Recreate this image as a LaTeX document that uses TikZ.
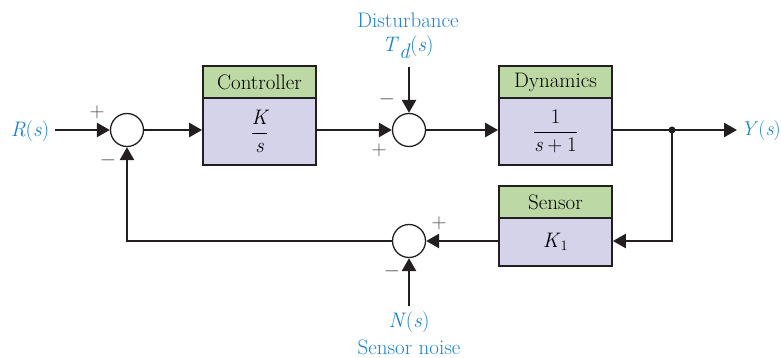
\documentclass[tikz,border=0pt]{standalone}
\usepackage{fontspec}
\usetikzlibrary{arrows.meta}
\definecolor{hdr}{RGB}{188,216,164}
\definecolor{bdy}{RGB}{213,211,234}
\definecolor{sig}{RGB}{30,130,200}
\definecolor{ln}{RGB}{35,31,32}
\begin{document}
\begin{tikzpicture}[x=1pt,y=-1pt,
  font=\fontsize{21}{25}\selectfont,
  hdrbox/.style={draw=ln,line width=1.8pt,fill=hdr,minimum width=113pt,minimum height=32pt,inner sep=0pt},
  bdybox/.style={draw=ln,line width=1.8pt,fill=bdy,minimum width=113pt,inner sep=0pt},
  sumj/.style={circle,draw=ln,line width=1.3pt,fill=white,minimum size=33pt,inner sep=0pt},
  sigtxt/.style={text=sig,inner sep=0pt},
  signmark/.style={text=ln!80,font=\fontsize{22}{24}\selectfont,inner sep=0pt},
  wire/.style={draw=ln,line width=2.6pt},
  arr/.style={wire,-{Triangle[length=13pt,width=14pt]}}]
\useasboundingbox (0,0) rectangle (781,358);
% blocks
\node[bdybox,minimum height=67pt] (ctrl) at (259.5,131.5) {$\displaystyle\frac{\textit{K}}{\textit{s}}$};
\node[hdrbox] (ctrlH) at (259.5,82) {Controller};
\node[bdybox,minimum height=67pt] (dyn) at (555.5,131.5) {$\displaystyle\frac{1}{\textit{s}+1}$};
\node[hdrbox] (dynH) at (555.5,82) {Dynamics};
\node[bdybox,minimum height=48pt] (sen) at (555.5,242) {\textit{K}$_1$};
\node[hdrbox] (senH) at (555.5,202) {Sensor};
% summing junctions
\node[sumj] (s1) at (127,130) {};
\node[sumj] (s2) at (409,130) {};
\node[sumj] (s3) at (409,241) {};
% signals
\node[sigtxt] (R) at (30,131) {\textit{R}(\textit{s})};
\coordinate (rin) at (55,130);
\node[sigtxt,font=\fontsize{20}{24}\selectfont] (Y) at (761,131) {\textit{Y}(\textit{s})};
\coordinate (yout) at (737,130);
\coordinate (dot) at (672,130);
\node[sigtxt] (dist) at (408,20) {Disturbance};
\node[sigtxt] (Td) at (408,47) {\textit{T}$_{\textit{d}}$(\textit{s})};
\coordinate (tdin) at (409,67);
\node[sigtxt] (N) at (409,322) {\textit{N}(\textit{s})};
\node[sigtxt] (noise) at (409,347) {Sensor noise};
\coordinate (nin) at (409,306);
% signs
\node[signmark] (p1) at (97,112) {$+$};
\node[signmark] (m1) at (108,160) {$-$};
\node[signmark] (m2) at (387,99) {$-$};
\node[signmark] (p2) at (379,150) {$+$};
\node[signmark] (p3) at (439,223) {$+$};
\node[signmark] (m3) at (392,271) {$-$};
% connectors
\draw[arr] (rin) -- (s1.west);
\draw[arr] (s1.east) -- (s1.east -| ctrl.west);
\draw[arr] (ctrl.east |- s2) -- (s2.west);
\draw[arr] (s2.east) -- (s2 -| dyn.west);
\draw[wire] (dyn.east |- s2) -- (dot);
\draw[arr] (dot) -- (yout);
\fill[ln] (dot) circle (3.5pt);
\draw[arr] (dot) |- (sen.east |- s3);
\draw[arr] (sen.west |- s3) -- (s3.east);
\draw[arr] (s3.west) -| (s1.south);
\draw[arr] (tdin) -- (s2.north);
\draw[arr] (nin) -- (s3.south);
\end{tikzpicture}
\end{document}
